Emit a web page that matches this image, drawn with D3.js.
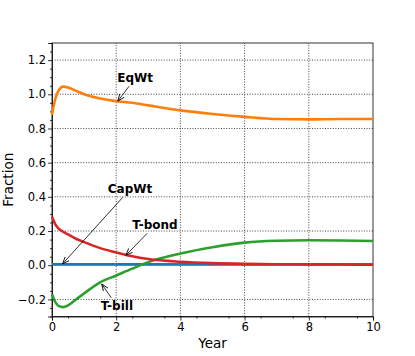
<!DOCTYPE html>
<html>
<head>
<meta charset="utf-8">
<script src="https://cdn.jsdelivr.net/npm/d3@7"></script>
<style>
  body { margin: 0; background: #fff; }
  svg { display: block; font-family: "DejaVu Sans", sans-serif; }
</style>
</head>
<body>
<div id="chart"></div>
<script>
// values
const years = [0, 0.1, 0.2, 0.35, 0.5, 0.75, 1, 1.5, 2, 2.5, 3, 4, 5, 6, 7, 8, 9, 10];
const capWt = [0.005, 0.005, 0.005, 0.005, 0.005, 0.005, 0.005, 0.005, 0.005, 0.005, 0.005, 0.005, 0.005, 0.005, 0.005, 0.005, 0.005, 0.005];
const eqWt  = [0.88, 0.97, 1.02, 1.045, 1.04, 1.02, 1.0, 0.975, 0.96, 0.95, 0.935, 0.906, 0.885, 0.868, 0.855, 0.853, 0.855, 0.855];
const tBill = [-0.17, -0.215, -0.238, -0.245, -0.235, -0.2, -0.165, -0.1, -0.06, -0.02, 0.018, 0.068, 0.105, 0.132, 0.143, 0.146, 0.145, 0.142];
const tBond = [0.283, 0.24, 0.215, 0.195, 0.18, 0.155, 0.135, 0.1, 0.075, 0.052, 0.036, 0.02, 0.012, 0.008, 0.006, 0.005, 0.004, 0.003];

const xTicks = [0, 2, 4, 6, 8, 10];
const yTicks = [-0.2, 0.0, 0.2, 0.4, 0.6, 0.8, 1.0, 1.2];

// annotation: label, text anchor point (data) and arrow target (data)
const notes = [
  {label: "EqWt",   tx: 2.59, ty: 1.094,  ax: 2.05, ay: 0.96},
  {label: "CapWt",  tx: 2.43, ty: 0.444,  ax: 0.33, ay: 0.008},
  {label: "T-bond", tx: 3.21, ty: 0.234,  ax: 2.3,  ay: 0.058},
  {label: "T-bill", tx: 2.02, ty: -0.238, ax: 1.55, ay: -0.11}
];

const width = 415, height = 356;
const margin = {top: 43, right: 42, bottom: 39.5, left: 52};

const svg = d3.select("#chart").append("svg")
    .attr("width", width)
    .attr("height", height);

const x = d3.scaleLinear().domain([0, 10]).range([margin.left, width - margin.right]);
const y = d3.scaleLinear().domain([-0.3, 1.3]).range([height - margin.bottom, margin.top]);

const fmt = d => d3.format(".1f")(d).replace("-", "\u2212");

// dotted grid
const gridStyle = sel => sel
    .attr("stroke", "#444").attr("stroke-width", 1).attr("stroke-dasharray", "1,1.6");
svg.append("g").selectAll("line").data(xTicks.slice(1, -1)).join("line")
    .attr("x1", d => x(d)).attr("x2", d => x(d))
    .attr("y1", y(-0.3)).attr("y2", y(1.3))
    .call(gridStyle);
svg.append("g").selectAll("line").data(yTicks).join("line")
    .attr("x1", x(0)).attr("x2", x(10))
    .attr("y1", d => y(d)).attr("y2", d => y(d))
    .call(gridStyle);

// axes, major and minor ticks
svg.append("g")
    .attr("transform", `translate(0,${y(-0.3)})`)
    .call(d3.axisBottom(x).tickValues(xTicks).tickFormat(d3.format("d")).tickSize(4).tickPadding(2));
svg.append("g")
    .attr("transform", `translate(0,${y(-0.3)})`)
    .call(d3.axisBottom(x).tickValues(d3.range(0.5, 10, 1)).tickFormat("").tickSize(2))
    .select(".domain").remove();

const yMinor = d3.range(-0.3, 1.3001, 0.05)
    .filter(v => Math.abs(v / 0.2 - Math.round(v / 0.2)) > 0.01);

svg.append("g")
    .attr("transform", `translate(${x(0)},0)`)
    .call(d3.axisLeft(y).tickValues(yTicks).tickFormat(fmt).tickSize(4).tickPadding(2));
svg.append("g")
    .attr("transform", `translate(${x(0)},0)`)
    .call(d3.axisLeft(y).tickValues(yMinor).tickFormat("").tickSize(2))
    .select(".domain").remove();

svg.selectAll(".tick text").attr("font-size", 11.5).attr("fill", "#000").attr("font-family", "DejaVu Sans");
svg.selectAll(".tick line").attr("stroke", "#000").attr("stroke-width", 0.8);
svg.selectAll(".domain").attr("stroke", "#000").attr("stroke-width", 0.8);

// frame (top and right)
svg.append("rect")
    .attr("x", x(0)).attr("y", y(1.3))
    .attr("width", x(10) - x(0)).attr("height", y(-0.3) - y(1.3))
    .attr("fill", "none").attr("stroke", "#000").attr("stroke-width", 0.8);

// lines
const series = [
  {name: "CapWt",  values: capWt, color: "#1f77b4"},
  {name: "EqWt",   values: eqWt,  color: "#ff7f0e"},
  {name: "T-bill", values: tBill, color: "#2ca02c"},
  {name: "T-bond", values: tBond, color: "#d62728"}
];

const line = d3.line()
    .x((d, i) => x(years[i]))
    .y(d => y(d))
    .curve(d3.curveMonotoneX);

svg.append("g").selectAll("path").data(series).join("path")
    .attr("d", d => line(d.values))
    .attr("fill", "none")
    .attr("stroke", d => d.color)
    .attr("stroke-width", 2.6)
    .attr("stroke-linejoin", "round");

// annotations with arrows
svg.append("defs").append("marker")
    .attr("id", "arr")
    .attr("viewBox", "0 0 10 10")
    .attr("refX", 10).attr("refY", 5)
    .attr("markerWidth", 7).attr("markerHeight", 7)
    .attr("markerUnits", "userSpaceOnUse")
    .attr("orient", "auto")
    .append("path")
    .attr("d", "M0,1 L10,5 L0,9")
    .attr("fill", "none").attr("stroke", "#000").attr("stroke-width", 1.2);

const ann = svg.append("g");
notes.forEach(n => {
  const t = ann.append("text")
      .attr("x", x(n.tx)).attr("y", y(n.ty))
      .attr("text-anchor", "middle")
      .attr("dominant-baseline", "central")
      .attr("font-weight", "bold")
      .attr("font-size", 12)
      .text(n.label);
  const b = t.node().getBBox();
  const cx = x(n.tx), cy = y(n.ty);
  const tx = x(n.ax), ty = y(n.ay);
  const dx = tx - cx, dy = ty - cy;
  const hw = b.width / 2 + 2, hh = b.height / 2 + 1;
  const s = Math.min(hw / Math.abs(dx || 1e-9), hh / Math.abs(dy || 1e-9));
  ann.append("line")
      .attr("x1", cx + dx * s).attr("y1", cy + dy * s)
      .attr("x2", tx).attr("y2", ty)
      .attr("stroke", "#000").attr("stroke-width", 0.8)
      .attr("marker-end", "url(#arr)");
});

// axis titles
svg.append("text")
    .attr("x", (x(0) + x(10)) / 2).attr("y", 348)
    .attr("text-anchor", "middle")
    .attr("font-size", 13.5)
    .text("Year");
svg.append("text")
    .attr("transform", `translate(12.5,${(y(-0.3) + y(1.3)) / 2}) rotate(-90)`)
    .attr("text-anchor", "middle")
    .attr("font-size", 13.5)
    .text("Fraction");
</script>
</body>
</html>
